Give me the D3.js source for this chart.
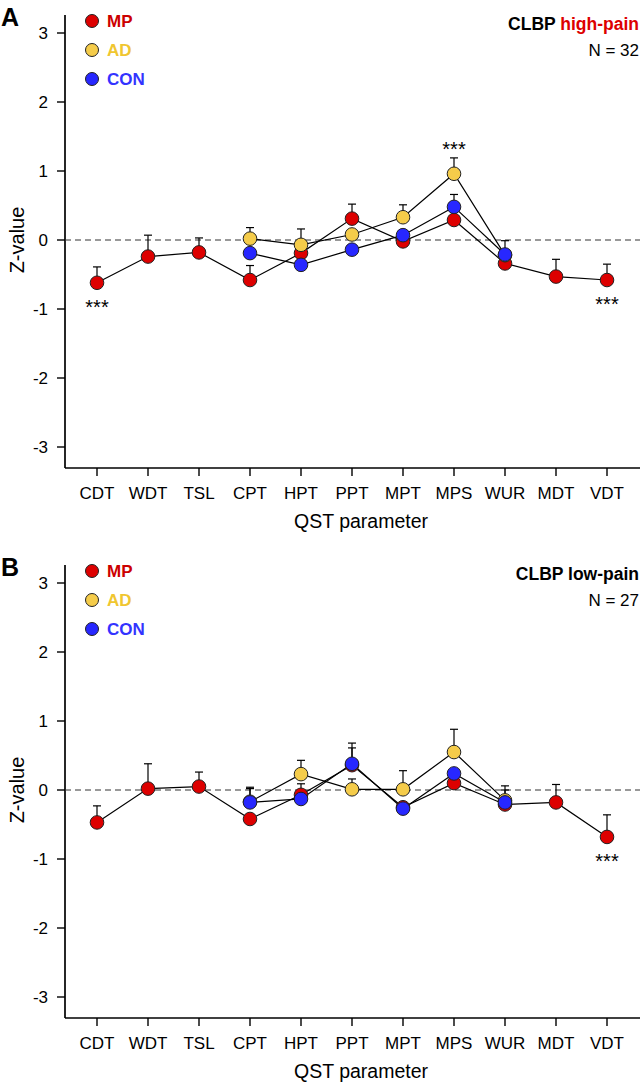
<!DOCTYPE html>
<html><head><meta charset="utf-8">
<script src="https://cdn.jsdelivr.net/npm/d3@7"></script>
<style>body{margin:0;background:#fff}svg{display:block;font-family:"Liberation Sans",Arial,sans-serif}</style>
</head><body><svg id="c" width="641" height="1087"></svg>
<script>
const categories = ["CDT","WDT","TSL","CPT","HPT","PPT","MPT","MPS","WUR","MDT","VDT"];
const yTicks = [-3,-2,-1,0,1,2,3];
const groups = ["MP","AD","CON"];
const groupColors = ["#dd0000","#f5cc4a","#2727ff"];
const legendTextColors = ["#cc0000","#f0c630","#3333ff"];

// Panel A: CLBP high-pain (means and upward SEM)
const A_MP      = [-0.62,-0.24,-0.18,-0.58,-0.19,0.31,-0.02,0.29,-0.34,-0.53,-0.58];
const A_MP_err  = [0.23,0.31,0.21,0.21,null,0.21,null,null,null,0.25,0.23];
const A_AD      = [null,null,null,0.02,-0.07,0.08,0.33,0.96,-0.22,null,null];
const A_AD_err  = [null,null,null,0.16,0.23,null,0.18,0.23,null,null,null];
const A_CON     = [null,null,null,-0.19,-0.36,-0.14,0.07,0.48,-0.21,null,null];
const A_CON_err = [null,null,null,null,null,null,null,0.18,0.20,null,null];
const A_sig = [["CDT","below"],["MPS","above"],["VDT","below"]];

// Panel B: CLBP low-pain
const B_MP      = [-0.47,0.02,0.05,-0.42,-0.07,0.36,-0.25,0.10,-0.21,-0.18,-0.68];
const B_MP_err  = [0.24,0.36,0.21,null,0.16,0.25,null,null,0.21,0.26,0.32];
const B_AD      = [null,null,null,-0.17,0.23,0.01,0.01,0.55,-0.15,null,null];
const B_AD_err  = [null,null,null,0.21,0.20,0.15,0.27,0.33,null,null,null];
const B_CON     = [null,null,null,-0.18,-0.13,0.38,-0.27,0.24,-0.18,null,null];
const B_CON_err = [null,null,null,0.20,null,0.30,null,null,0.24,null,null];
const B_sig = [["VDT","below"]];

const panels = [
  {letter:"A", top:0, title:"CLBP", sub:"high-pain", subColor:"#dd0000", n:"N = 32",
   series:[[A_MP,A_MP_err],[A_AD,A_AD_err],[A_CON,A_CON_err]], sig:A_sig},
  {letter:"B", top:550, title:"CLBP", sub:"low-pain", subColor:"#000", n:"N = 27",
   series:[[B_MP,B_MP_err],[B_AD,B_AD_err],[B_CON,B_CON_err]], sig:B_sig}
];

const svg = d3.select("#c");
const x = d3.scalePoint().domain(categories).range([97,607]);
const axisLeft = 65, axisRight = 640;

panels.forEach(p => {
  const g = svg.append("g").attr("transform",`translate(0,${p.top})`);
  const y = d3.scaleLinear().domain([-3,3]).range([447,33]);
  const y0 = 468, yTop = 15;

  g.append("line").attr("x1",axisLeft).attr("x2",axisLeft).attr("y1",yTop).attr("y2",y0)
    .attr("stroke","#000").attr("stroke-width",1.7);
  g.append("line").attr("x1",axisLeft).attr("x2",axisRight).attr("y1",y0).attr("y2",y0)
    .attr("stroke","#000").attr("stroke-width",1.7);
  yTicks.forEach(t => {
    g.append("line").attr("x1",axisLeft-8).attr("x2",axisLeft).attr("y1",y(t)).attr("y2",y(t))
      .attr("stroke","#000").attr("stroke-width",1.4);
    g.append("text").attr("x",axisLeft-17).attr("y",y(t)).attr("dy","0.36em")
      .attr("text-anchor","end").attr("font-size",17).text(t);
  });
  categories.forEach(c => {
    g.append("line").attr("x1",x(c)).attr("x2",x(c)).attr("y1",y0).attr("y2",y0+8)
      .attr("stroke","#000").attr("stroke-width",1.4);
    g.append("text").attr("x",x(c)).attr("y",y0+31).attr("text-anchor","middle")
      .attr("font-size",17).text(c);
  });
  g.append("text").attr("x",361).attr("y",y0+60).attr("text-anchor","middle")
    .attr("font-size",19.5).text("QST parameter");
  g.append("text").attr("transform",`translate(24,${y(0)}) rotate(-90)`).attr("text-anchor","middle")
    .attr("font-size",20).text("Z-value");

  g.append("line").attr("x1",axisLeft).attr("x2",axisRight).attr("y1",y(0)).attr("y2",y(0))
    .attr("stroke","#333").attr("stroke-width",1).attr("stroke-dasharray","6,4");

  g.append("text").attr("x",1).attr("y",26).attr("font-size",25).attr("font-weight","bold").text(p.letter);

  const tt = g.append("text").attr("x",639).attr("y",30).attr("text-anchor","end")
    .attr("font-size",17.5).attr("font-weight","bold");
  tt.append("tspan").attr("fill","#000").text(p.title+" ");
  tt.append("tspan").attr("fill",p.subColor).text(p.sub);
  g.append("text").attr("x",639).attr("y",56).attr("text-anchor","end").attr("font-size",17).text(p.n);

  groups.forEach((gr,i) => {
    const ly = 21 + i*29;
    g.append("circle").attr("cx",92).attr("cy",ly).attr("r",6.5)
      .attr("fill",groupColors[i]).attr("stroke","#222").attr("stroke-width",1);
    g.append("text").attr("x",107).attr("y",ly).attr("dy","0.36em").attr("font-size",17)
      .attr("font-weight","bold").attr("fill",legendTextColors[i]).text(gr);
  });

  const line = d3.line().defined(d => d.v !== null).x(d => x(d.c)).y(d => y(d.v));
  const sData = p.series.map(([vals,errs]) => categories.map((c,i) => ({c, v:vals[i], e:errs[i]})));

  sData.forEach(sd => {
    g.append("path").datum(sd).attr("d",line).attr("fill","none").attr("stroke","#000").attr("stroke-width",1.2);
  });
  sData.forEach(sd => {
    sd.filter(d => d.v !== null && d.e !== null).forEach(d => {
      const yt = y(d.v + d.e);
      g.append("line").attr("x1",x(d.c)).attr("x2",x(d.c)).attr("y1",y(d.v)).attr("y2",yt)
        .attr("stroke","#000").attr("stroke-width",1.2);
      g.append("line").attr("x1",x(d.c)-4).attr("x2",x(d.c)+4).attr("y1",yt).attr("y2",yt)
        .attr("stroke","#000").attr("stroke-width",1.2);
    });
  });
  sData.forEach((sd,i) => {
    g.selectAll(null).data(sd.filter(d => d.v !== null)).join("circle")
      .attr("cx",d => x(d.c)).attr("cy",d => y(d.v)).attr("r",6.8)
      .attr("fill",groupColors[i]).attr("stroke","#222").attr("stroke-width",1);
  });

  p.sig.forEach(([c,pos]) => {
    const i = categories.indexOf(c);
    const vals = sData.map(sd => sd[i]).filter(d => d.v !== null);
    let yy;
    if (pos === "below") {
      yy = y(d3.min(vals, d => d.v)) + 31;
    } else {
      yy = y(d3.max(vals, d => d.v + (d.e || 0))) - 2;
    }
    g.append("text").attr("x",x(c)).attr("y",yy).attr("text-anchor","middle")
      .attr("font-size",20).text("***");
  });
});
</script></body></html>
